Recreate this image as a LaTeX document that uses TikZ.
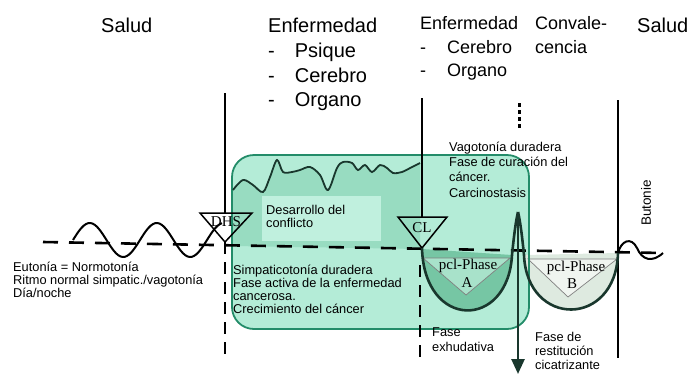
\documentclass[tikz,border=0pt]{standalone}
\usepackage{fontspec}
\setmainfont{Liberation Sans}
\newfontfamily\trifont{Liberation Serif}
\usetikzlibrary{arrows.meta}
\definecolor{boxfill}  {RGB}{180,236,215}
\definecolor{boxline}  {RGB}{35,140,105}
\definecolor{wavefill} {RGB}{152,220,193}
\definecolor{textbg}   {RGB}{192,240,222}
\definecolor{phaseA}   {RGB}{118,198,164}
\definecolor{triA}     {RGB}{168,226,202}
\definecolor{phaseB}   {RGB}{222,234,224}
\definecolor{triB}     {RGB}{240,245,240}
\definecolor{darkline} {RGB}{25,55,45}

\begin{document}
\begin{tikzpicture}[x=1bp,y=-1bp,
    hdr/.style={anchor=base west,inner sep=0pt,font=\fontsize{20bp}{24bp}\selectfont},
    hdrsmall/.style={anchor=base west,inner sep=0pt,font=\fontsize{18bp}{22bp}\selectfont},
    note/.style={anchor=base west,inner sep=0pt,align=left,font=\fontsize{12.8bp}{13bp}\selectfont},
    trilbl/.style={inner sep=0pt,font=\trifont\fontsize{15bp}{17bp}\selectfont},
    tri/.style={draw=black,line width=1.5bp},
    vline/.style={line width=2bp},
    vdash/.style={line width=2.5bp,dash pattern=on 12bp off 8bp},
    zeroline/.style={line width=2.6bp,dash pattern=on 15bp off 11bp},
    wave/.style={line width=2bp},
    uline/.style={draw=darkline,line width=2.6bp}]
    \useasboundingbox (0,0) rectangle (689,374);

    \coordinate (dhstop)   at (225,93);
    \coordinate (dhsbase)  at (225,213);
    \coordinate (dhs)      at (225,242);
    \coordinate (dhsfoot)  at (225,357);
    \coordinate (cltop)    at (422,98);
    \coordinate (clbase)   at (422,217);
    \coordinate (cl)       at (422,248);
    \coordinate (cldash)   at (420,265);
    \coordinate (clfoot)   at (420,357);
    \coordinate (dottop)   at (519,103);
    \coordinate (dotbot)   at (519,128);
    \coordinate (spike)    at (518,212);
    \coordinate (arrowend) at (518,374);
    \coordinate (rttop)    at (618,100);
    \coordinate (rtfoot)   at (618,358);
    \coordinate (rtbase)   at (618,253);
    \coordinate (zeroL)    at (43,242);
    \coordinate (zeroR)    at (663,253);

    \fill[boxfill,rounded corners=22bp] (232,155) rectangle (529,329);
    \fill[wavefill] (233,246) -- plot[smooth,tension=.55] coordinates {(233,190) (243,180) (253,185)
      (263,192) (270,177) (277,160) (283,172) (292,172) (300,170) (310,167) (320,175) (328,190)
      (337,168) (343,162) (352,163) (358,170) (365,165) (372,172) (380,165) (387,168) (393,173)
      (402,172) (412,167) (420,163)} -- (420,249) -- cycle;
    \fill[textbg] (262,196) rectangle (381,241);
    \fill[phaseA] (422,249) .. controls (424,330) and (508,330) .. (512,255) -- cycle;
    \filldraw[fill=triA,draw=gray,line width=.7bp] (423,258) -- (510,258) -- (466,295) -- cycle;
    \fill[phaseB] (524,255) .. controls (527,328) and (616,328) .. (618,253) -- cycle;
    \filldraw[fill=triB,draw=gray,line width=.7bp] (528,259) -- (617,259) -- (568,297) -- cycle;
    \draw[boxline,line width=1.8bp,rounded corners=22bp] (232,155) rectangle (529,329);

    \draw[zeroline] (zeroL) -- (zeroR);
    \draw[wave] plot[domain=73:222,samples=70] (\x,{240-17*sin((\x-73)/67*360)});
    \draw[wave,darkline,line width=1.8bp] plot[smooth,tension=.55] coordinates {(233,190) (243,180) (253,185)
      (263,192) (270,177) (277,160) (283,172) (292,172) (300,170) (310,167) (320,175) (328,190)
      (337,168) (343,162) (352,163) (358,170) (365,165) (372,172) (380,165) (387,168) (393,173)
      (402,172) (412,167) (420,163)};

    \draw[tri] (dhs) -- ++(-25,-29) -- ++(52,0) -- cycle;
    \draw[tri] (cl) -- ++(-24,-31) -- ++(49,0) -- cycle;
    \draw[vline] (dhstop) -- (dhsbase);
    \draw[vdash] (dhs) -- (dhsfoot);
    \draw[vline] (cltop) -- (clbase);
    \draw[vdash] (cldash) -- (clfoot);
    \draw[line width=3bp,dash pattern=on 4bp off 3bp] (dottop) -- (dotbot);
    \draw[vline] (rttop) -- (rtfoot);

    \draw[uline] (cl) .. controls (424,330) and (508,330) .. (512,255) .. controls (514,235) and (516,220) .. (spike);
    \draw[uline] (spike) .. controls (520,220) and (522,235) .. (524,255) .. controls (527,328) and (616,328) .. (rtbase);
    \draw[uline,-{Triangle[length=15bp,width=13bp]}] (spike) -- (arrowend);
    \draw[wave] (rtbase) .. controls (621,241) and (631,236) .. (637,248) .. controls (642,260) and (652,263) .. (zeroR);

    \node[trilbl] (dhslbl) at (226,222) {DHS};
    \node[trilbl] (cllbl) at (422,228) {CL};
    \node[trilbl] (phaseAlbl) at (468,266) {pcl-Phase};
    \node[trilbl] (phaseAlt) at (467,283) {A};
    \node[trilbl] (phaseBlbl) at (576,268) {pcl-Phase};
    \node[trilbl] (phaseBlt) at (572,284) {B};

    \node[hdr] (salud1) at (101,32) {Salud};
    \node[hdr] (enf1) at (268,32) {Enfermedad};
    \node[hdr] (psique1) at (268,57) {-\quad Psique};
    \node[hdr] (cerebro1) at (268,82) {-\quad Cerebro};
    \node[hdr] (organo1) at (268,106) {-\quad Organo};
    \node[hdrsmall] (enf2) at (420,29) {Enfermedad};
    \node[hdrsmall] (cerebro2) at (420,53) {-\hspace{21bp}Cerebro};
    \node[hdrsmall] (organo2) at (420,76) {-\hspace{21bp}Organo};
    \node[hdrsmall] (conva) at (535,29) {Convale-};
    \node[hdrsmall] (cencia) at (535,53) {cencia};
    \node[hdr] (salud2) at (637,32) {Salud};

    \node[note] (eutonia) at (13,297) {Eutonía = Normotonía\\Ritmo normal simpatic./vagotonía\\Día/noche};
    \node[note] (simpatic) at (233,313) {Simpaticotonía duradera\\Fase activa de la enfermedad\\cancerosa.\\Crecimiento del cáncer};
    \node[note] (desarrollo) at (266,227) {Desarrollo del\\conflicto};
    \node[note,font=\fontsize{12.8bp}{15.3bp}\selectfont] (vagotonia) at (449,197) {Vagotonía duradera\\Fase de curación del\\cáncer.\\Carcinostasis};
    \node[note,font=\fontsize{12.8bp}{15bp}\selectfont] (exhud) at (432,351) {Fase\\exhudativa};
    \node[note,font=\fontsize{12.8bp}{14bp}\selectfont] (restit) at (535,369) {Fase de\\restitución\\cicatrizante};
    \node[note,anchor=center,rotate=90,font=\fontsize{13.5bp}{15bp}\selectfont] (butonie) at (646,203) {Butonie};
\end{tikzpicture}
\end{document}
